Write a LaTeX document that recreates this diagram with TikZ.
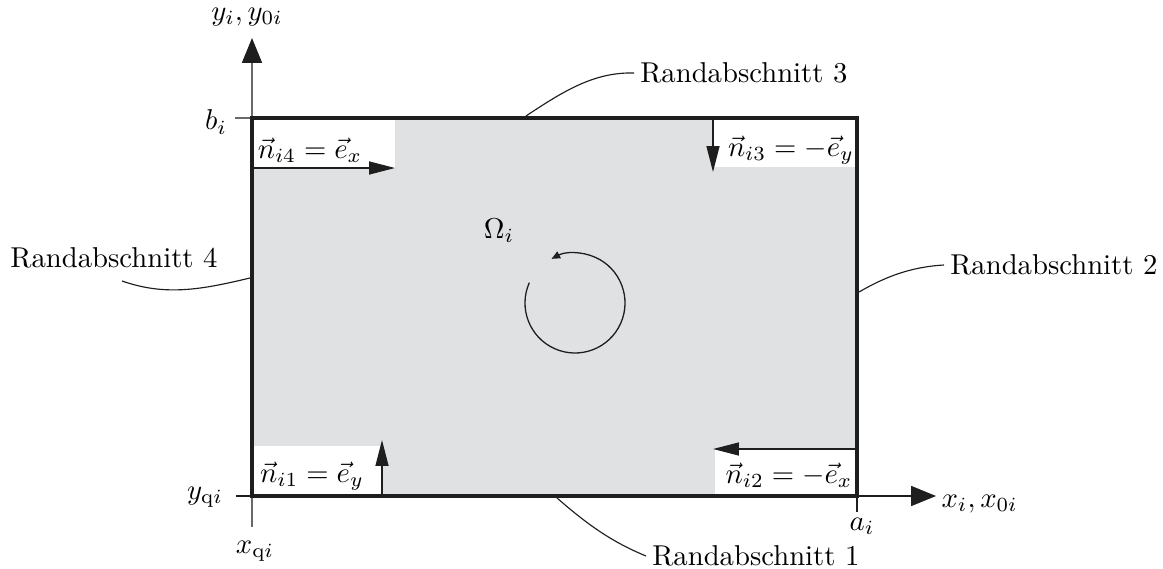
\documentclass[tikz,border=0pt]{standalone}
\usetikzlibrary{arrows.meta}
\definecolor{areagray}{RGB}{224,225,227}
\definecolor{axisgray}{RGB}{105,105,105}
\definecolor{inkdark}{RGB}{30,30,30}
\begin{document}
\begin{tikzpicture}[x=0.3484pt,y=-0.3484pt,
  lbl/.style={inner sep=0pt},
  rlbl/.style={inner sep=2pt},
  axisline/.style={line width=0.5pt, draw=axisgray},
  thinline/.style={line width=0.5pt, draw=inkdark},
  leader/.style={line width=0.4pt, draw=inkdark},
  bigtip/.style={-{Triangle[length=8.7pt,width=7pt,color=inkdark,fill=inkdark]}},
  ntip/.style={-{Triangle[length=9pt,width=4.5pt,color=inkdark,fill=inkdark]}},
  border/.style={line width=1.25pt, line join=miter, draw=inkdark}
  ]
\useasboundingbox (0,0) rectangle (1163,569);
% corners of the region
\coordinate (A) at (252,496);
\coordinate (B) at (857,496);
\coordinate (C) at (857,118);
\coordinate (D) at (252,118);
% fill
\fill[areagray] (A) rectangle (C);
\fill[white] (252,118) rectangle (395,168);
\fill[white] (713,118) rectangle (857,167);
\fill[white] (252,446) rectangle (382,496);
\fill[white] (715,449) rectangle (857,496);
% axes
\coordinate (ybot) at (252,527);
\coordinate (ytop) at (252,38);
\draw[axisline,bigtip] (ybot) -- (ytop);
\coordinate (xl) at (236,496);
\coordinate (xr) at (936,496);
\draw[thinline,bigtip] (xl) -- (xr);
\coordinate (bt) at (235,118);
\draw[axisline] (bt) -- (D);
\coordinate (at) at (857,512);
\draw[thinline] (B) -- (at);
% normal vectors
\coordinate (n4a) at (253,168); \coordinate (n4b) at (395,168);
\draw[thinline,ntip] (n4a) -- (n4b);
\coordinate (n3a) at (713,119); \coordinate (n3b) at (713,172);
\draw[thinline,ntip] (n3a) -- (n3b);
\coordinate (n1a) at (382,495); \coordinate (n1b) at (382,440);
\draw[thinline,ntip] (n1a) -- (n1b);
\coordinate (n2a) at (856,449); \coordinate (n2b) at (713,449);
\draw[thinline,ntip] (n2a) -- (n2b);
% border
\draw[border] (A) rectangle (C);
% rotation arrow
\begin{scope}[shift={(575,303)}, x=0.3484pt, y=0.3484pt]
  \coordinate (rs) at (156:50);
  \draw[line width=0.45pt, draw=inkdark, -{Triangle[length=3pt,width=2.6pt,color=inkdark,fill=inkdark]}] (rs) arc[start angle=156, end angle=478, radius=50];
\end{scope}
% labels
\node[lbl] (ylab) at (247,17) {$y_i, y_{0i}$};
\node[lbl] (blab) at (216,122) {$b_i$};
\node[lbl] (xqlab) at (255,551) {$x_{\mathrm{q}i}$};
\node[lbl] (yqlab) at (205,497) {$y_{\mathrm{q}i}$};
\node[lbl] (alab) at (862,526) {$a_i$};
\node[lbl,anchor=west] (xlab) at (941,504) {$x_i, x_{0i}$};
\node[lbl] (om) at (499,231) {$\Omega_i$};
\node[lbl] (n4l) at (310,150) {$\vec{n}_{i4}=\vec{e}_x$};
\node[lbl] (n3l) at (791,150) {$\vec{n}_{i3}=-\vec{e}_y$};
\node[lbl] (n1l) at (312,476) {$\vec{n}_{i1}=\vec{e}_y$};
\node[lbl] (n2l) at (789,475) {$\vec{n}_{i2}=-\vec{e}_x$};
% boundary section labels
\node[rlbl,anchor=west] (R3) at (634,73) {Randabschnitt 3};
\node[rlbl,anchor=west] (R2) at (944,265) {Randabschnitt 2};
\node[lbl] (R4) at (114,258) {Randabschnitt 4};
\node[rlbl,anchor=west] (R1) at (646,556) {Randabschnitt 1};
% leaders
\coordinate (r3a) at (526,116);
\draw[leader] (r3a) .. controls (565,90) and (595,72) .. (R3.west);
\coordinate (r2a) at (859,292);
\draw[leader] (r2a) .. controls (885,277) and (910,267) .. (R2.west);
\coordinate (r4a) at (250,278);
\coordinate (r4b) at (122,281);
\draw[leader] (r4a) .. controls (200,290) and (165,296) .. (r4b);
\coordinate (r1a) at (557,498);
\draw[leader] (r1a) .. controls (588,525) and (612,542) .. (R1.west);
\end{tikzpicture}
\end{document}
